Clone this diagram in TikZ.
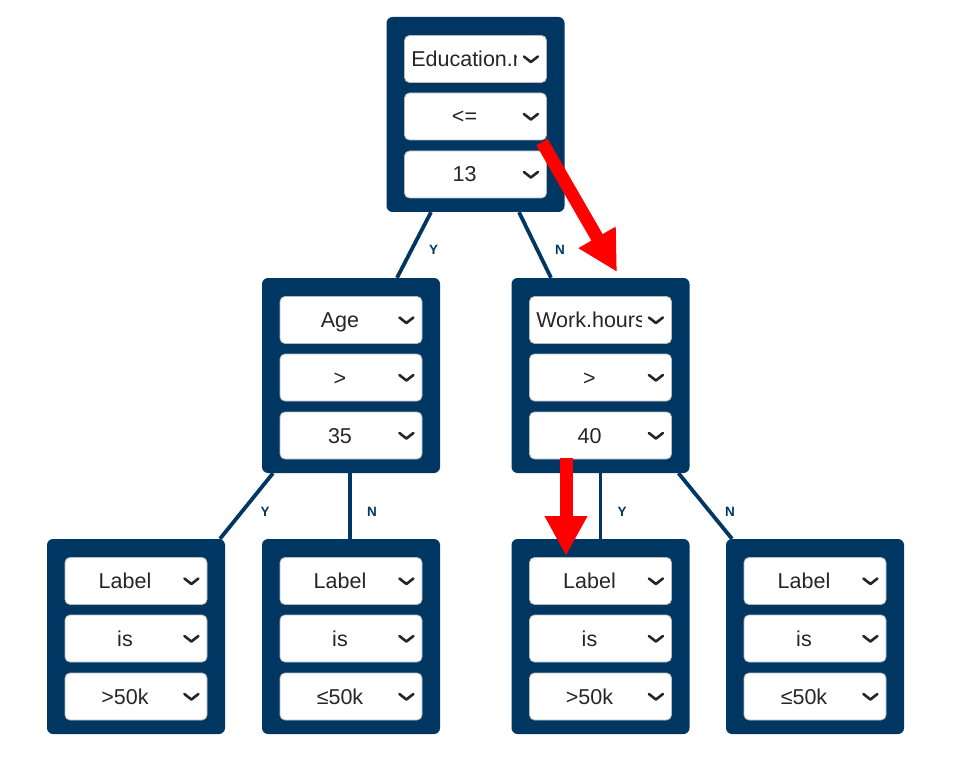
\documentclass[tikz,border=0pt]{standalone}
\usepackage{fontspec}
\setmainfont{Liberation Sans}
\usetikzlibrary{arrows.meta,calc}

\definecolor{navy}{RGB}{0,55,98}
\definecolor{menuborder}{RGB}{185,185,185}
\definecolor{menutext}{RGB}{38,38,38}

\tikzset{
  panel/.style={fill=navy, draw=none, rounded corners=6pt, minimum width=178pt,
    minimum height=195pt, inner sep=0pt},
  menu/.style={fill=white, draw=menuborder, line width=0.8pt, rounded corners=5pt,
    minimum width=142pt, minimum height=47pt, inner sep=0pt},
  menutxt/.style={text=menutext, font=\fontsize{21.5}{24}\selectfont, inner sep=0pt},
  chevron/.style={draw=menutext, line width=2.6pt, line cap=round, line join=round},
  branch/.style={draw=navy, line width=3.8pt},
  branchlbl/.style={text=navy, font=\bfseries\fontsize{13.5}{15}\selectfont, inner sep=0pt},
  pointer/.style={draw=red, line width=13pt, -{Triangle[length=40pt,width=40pt]}},
}

% drop-down menu with centred text
\newcommand\menuitem[4]{%
  \node[menu] (#1) at (#2,#3) {};
  \node[menutxt, anchor=base] at ($(#1.center)+(-11,7.5)$) {#4};
  \draw[chevron] ($(#1.east)+(-23,-2.5)$) -- ($(#1.east)+(-16,3)$) -- ($(#1.east)+(-9,-2.5)$);
}
% drop-down menu whose long text is cut off before the chevron
\newcommand\menuclip[4]{%
  \node[menu] (#1) at (#2,#3) {};
  \begin{scope}
    \clip ($(#1.north west)$) rectangle ($(#1.south east)+(-30,0)$);
    \node[menutxt, anchor=base west] at ($(#1.west)+(7,7.5)$) {#4};
  \end{scope}
  \draw[chevron] ($(#1.east)+(-23,-2.5)$) -- ($(#1.east)+(-16,3)$) -- ($(#1.east)+(-9,-2.5)$);
}

\begin{document}
\begin{tikzpicture}[x=1pt,y=-1pt]
  \useasboundingbox[fill=white] (0,0) rectangle (954,757);

  % decision panels
  \node[panel] (root) at (475.5,114.5) {};
  \menuclip{root-1}{475.5}{59}{Education.num}
  \menuitem{root-2}{475.5}{116.5}{<=}
  \menuitem{root-3}{475.5}{174.5}{13}

  \node[panel] (age) at (351,375.5) {};
  \menuitem{age-1}{351}{320}{Age}
  \menuitem{age-2}{351}{377.5}{>}
  \menuitem{age-3}{351}{435.5}{35}

  \node[panel] (work) at (600.5,375.5) {};
  \menuclip{work-1}{600.5}{320}{Work.hours}
  \menuitem{work-2}{600.5}{377.5}{>}
  \menuitem{work-3}{600.5}{435.5}{40}

  % leaf panels
  \node[panel] (l1) at (136,636.5) {};
  \menuitem{l1-1}{136}{581}{Label}
  \menuitem{l1-2}{136}{638.5}{is}
  \menuitem{l1-3}{136}{696.5}{>50k}

  \node[panel] (l2) at (351,636.5) {};
  \menuitem{l2-1}{351}{581}{Label}
  \menuitem{l2-2}{351}{638.5}{is}
  \menuitem{l2-3}{351}{696.5}{≤50k}

  \node[panel] (l3) at (600.5,636.5) {};
  \menuitem{l3-1}{600.5}{581}{Label}
  \menuitem{l3-2}{600.5}{638.5}{is}
  \menuitem{l3-3}{600.5}{696.5}{>50k}

  \node[panel] (l4) at (815,636.5) {};
  \menuitem{l4-1}{815}{581}{Label}
  \menuitem{l4-2}{815}{638.5}{is}
  \menuitem{l4-3}{815}{696.5}{≤50k}

  % branches
  \draw[branch] ([xshift=-44.5pt]root.south) -- ([xshift=46pt]age.north);
  \draw[branch] ([xshift=43.5pt]root.south) -- ([xshift=-49.5pt]work.north);
  \draw[branch] ([xshift=-78pt]age.south) -- ([xshift=84pt]l1.north);
  \draw[branch] ([xshift=-1pt]age.south) -- ([xshift=-1pt]l2.north);
  \draw[branch] (work.south) -- (l3.north);
  \draw[branch] ([xshift=78pt]work.south) -- ([xshift=-83pt]l4.north);

  % branch labels
  \node[branchlbl] (yr) at (433.5,249.5) {Y};
  \node[branchlbl] (nr) at (560,249.5) {N};
  \node[branchlbl] (ya) at (265,512) {Y};
  \node[branchlbl] (na) at (372,512) {N};
  \node[branchlbl] (yw) at (622,512) {Y};
  \node[branchlbl] (nw) at (730,512) {N};

  % path pointers
  \coordinate (p1s) at (542,142);
  \coordinate (p1e) at (617,272);
  \coordinate (p2s) at (566,458);
  \coordinate (p2e) at (566,556);
  \draw[pointer] (p1s) -- (p1e);
  \draw[pointer] (p2s) -- (p2e);
\end{tikzpicture}
\end{document}
